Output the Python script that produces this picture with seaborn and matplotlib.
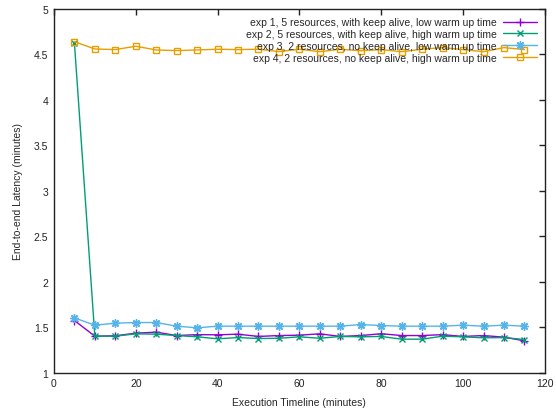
import numpy as np
import pandas as pd
import matplotlib
matplotlib.use("Agg")
import matplotlib.pyplot as plt
from matplotlib.ticker import FuncFormatter
import seaborn as sns

# execution timeline (minutes)
timeline = [5, 10, 15, 20, 25, 30, 35, 40, 45, 50, 55, 60,
            65, 70, 75, 80, 85, 90, 95, 100, 105, 110, 115]

exp1 = [1.575, 1.403, 1.407, 1.436, 1.447, 1.41, 1.42, 1.418, 1.425, 1.40, 1.41, 1.414,
        1.429, 1.40, 1.41, 1.43, 1.41, 1.41, 1.42, 1.40, 1.41, 1.392, 1.352]
exp2 = [4.63, 1.403, 1.403, 1.429, 1.425, 1.41, 1.396, 1.374, 1.388, 1.377, 1.38, 1.396,
        1.38, 1.40, 1.396, 1.40, 1.37, 1.37, 1.403, 1.396, 1.385, 1.388, 1.366]
exp3 = [1.604, 1.524, 1.546, 1.553, 1.553, 1.513, 1.495, 1.513, 1.513, 1.513, 1.513, 1.513,
        1.513, 1.513, 1.531, 1.52, 1.513, 1.513, 1.513, 1.524, 1.513, 1.524, 1.513]
exp4 = [4.64, 4.56, 4.553, 4.59, 4.549, 4.542, 4.549, 4.557, 4.553, 4.557, 4.531, 4.557,
        4.53, 4.557, 4.54, 4.553, 4.53, 4.557, 4.575, 4.553, 4.53, 4.575, 4.553]

labels = [
    "exp 1, 5 resources, with keep alive, low warm up time",
    "exp 2, 5 resources, with keep alive, high warm up time",
    "exp 3, 2 resources, no keep alive, low warm up time",
    "exp 4, 2 resources, no keep alive, high warm up time",
]
colors = ["#9400d3", "#009e73", "#56b4e9", "#e69f00"]
markers = ["+", "x", (8, 2, 0), "s"]
msizes = [6, 5, 6, 5]

sns.set_theme(style="white")
plt.rcParams["font.family"] = ["Liberation Sans", "DejaVu Sans"]
plt.rcParams["font.size"] = 7.5

fig = plt.figure(figsize=(5.56, 4.14), dpi=100)
ax = fig.add_axes([0.097, 0.097, 0.883, 0.879])

for vals, lab, col, mk, ms in zip([exp1, exp2, exp3, exp4], labels, colors, markers, msizes):
    df = pd.DataFrame({"t": timeline, "latency": vals})
    kw = dict(markerfacecolor="none") if mk == "s" else {}
    sns.lineplot(data=df, x="t", y="latency", ax=ax, color=col, marker=mk,
                 markersize=ms, markeredgewidth=1, markeredgecolor=col,
                 linewidth=1, label=lab, **kw)

ax.set_xlim(0, 120)
ax.set_ylim(1, 5)
ax.set_xticks(np.arange(0, 121, 20))
ax.set_yticks(np.arange(1, 5.01, 0.5))
ax.yaxis.set_major_formatter(FuncFormatter(lambda v, p: f"{v:g}"))
ax.tick_params(direction="in", length=4, width=1, top=True, right=True,
               labelsize=7.5, colors="#222222", pad=4)
for s in ax.spines.values():
    s.set_color("#222222")
    s.set_linewidth(1)

ax.set_xlabel("Execution Timeline (minutes)", fontsize=7.5, labelpad=6)
ax.set_ylabel("End-to-end Latency (minutes)", fontsize=7.5, labelpad=8)

ax.legend(loc="upper right", frameon=False, markerfirst=False, fontsize=7.5,
          handlelength=3.2, labelspacing=0.18, borderaxespad=0.4, handletextpad=0.6)

fig.savefig("out.png", dpi=100)
